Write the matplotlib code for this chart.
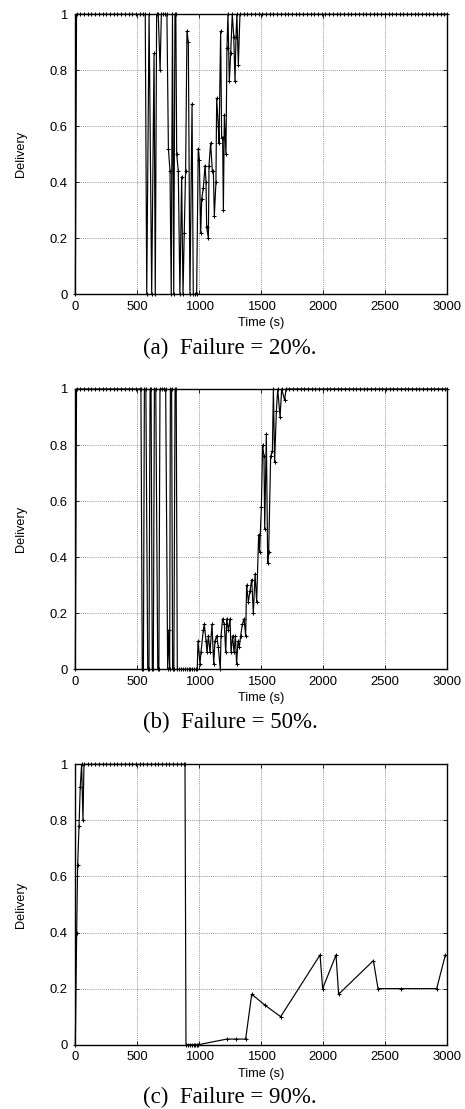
import matplotlib
matplotlib.use("Agg")
import matplotlib.pyplot as plt

# Delivery ratio over time for three failure levels
time_a = [0, 10, 40, 70, 100, 130, 160, 190, 220, 250,
          280, 310, 340, 370, 400, 430, 460, 490, 520, 550,
          565, 577, 596, 617, 636, 646, 657, 670, 685, 695,
          710, 725, 740, 752, 765, 775, 785, 795, 805, 812,
          819, 832, 845, 859, 870, 880, 891, 902, 913, 926,
          943, 953, 966, 980, 993,
          1002, 1013, 1021, 1034, 1048, 1056, 1061, 1075, 1080, 1093,
          1107, 1115, 1123, 1136, 1142, 1155, 1161, 1174, 1182, 1190,
          1196, 1204, 1217, 1225, 1233, 1244, 1255, 1268, 1280, 1290,
          1298, 1305, 1317, 1330,
          1360, 1390, 1420, 1450, 1480, 1510, 1540, 1570, 1600, 1630,
          1660, 1690, 1720, 1750, 1780, 1810, 1840, 1870, 1900, 1930,
          1960, 1990, 2020, 2050, 2080, 2110, 2140, 2170, 2200, 2230,
          2260, 2290, 2320, 2350, 2380, 2410, 2440, 2470, 2500, 2530,
          2560, 2590, 2620, 2650, 2680, 2710, 2740, 2770, 2800, 2830,
          2860, 2890, 2920, 2950, 2980, 3000]
delivery_a = [0, 1, 1, 1, 1, 1, 1, 1, 1, 1,
              1, 1, 1, 1, 1, 1, 1, 1, 1, 1,
              1, 0, 1, 0, 0.86, 0, 1, 1, 0.80, 1,
              1, 1, 1, 0.52, 0.44, 0, 1, 0, 1, 1,
              0.50, 0.44, 0, 0.42, 0, 0.22, 0.44, 0.94, 0.90, 0,
              0.68, 0, 0, 0, 0.52,
              0.48, 0.22, 0.34, 0.38, 0.46, 0.40, 0.24, 0.20, 0.46, 0.54,
              0.44, 0.44, 0.28, 0.40, 0.70, 0.60, 0.54, 0.94, 0.56, 0.56,
              0.30, 0.64, 0.50, 0.88, 1.0, 0.76, 0.86, 1.0, 0.92, 0.76,
              0.92, 1.0, 0.82, 1.0,
              1, 1, 1, 1, 1, 1, 1, 1, 1, 1,
              1, 1, 1, 1, 1, 1, 1, 1, 1, 1,
              1, 1, 1, 1, 1, 1, 1, 1, 1, 1,
              1, 1, 1, 1, 1, 1, 1, 1, 1, 1,
              1, 1, 1, 1, 1, 1, 1, 1, 1, 1,
              1, 1, 1, 1, 1, 1]

time_b = [0, 10, 40, 70, 100, 130, 160, 190, 220, 250,
          280, 310, 340, 370, 400, 430, 460, 490, 520,
          530, 541, 550, 558, 570, 585, 595, 604, 612, 622,
          630, 639, 650, 666, 675, 684, 700, 715, 730, 746,
          755, 762, 768, 778, 786, 796, 806, 815, 824, 840,
          855, 870, 885, 900, 915, 930, 945, 960, 975, 985,
          991, 1007, 1015, 1034, 1042, 1056, 1064, 1075, 1088, 1104,
          1118, 1128, 1142, 1155, 1171, 1177, 1190, 1204, 1215, 1223,
          1236, 1250, 1258, 1271, 1282, 1293, 1303, 1314, 1325, 1336,
          1349, 1363, 1376, 1384, 1398, 1411, 1425, 1438, 1452, 1465,
          1481, 1489, 1503, 1513, 1524, 1530, 1543, 1554, 1562, 1578,
          1592, 1600, 1610, 1624, 1635, 1654, 1667, 1691, 1702,
          1730, 1760, 1790, 1820, 1850, 1880, 1910, 1940, 1970, 2000,
          2030, 2060, 2090, 2120, 2150, 2180, 2210, 2240, 2270, 2300,
          2330, 2360, 2390, 2420, 2450, 2480, 2510, 2540, 2570, 2600,
          2630, 2660, 2690, 2720, 2750, 2780, 2810, 2840, 2870, 2900,
          2930, 2960, 2990, 3000]
delivery_b = [0, 1, 1, 1, 1, 1, 1, 1, 1, 1,
              1, 1, 1, 1, 1, 1, 1, 1, 1,
              1, 0, 0, 1, 1, 0, 0, 1, 1, 0,
              0, 1, 1, 0, 0, 1, 1, 1, 1, 0,
              0.14, 0, 1, 1, 0, 0, 1, 1, 0, 0,
              0, 0, 0, 0, 0, 0, 0, 0, 0, 0,
              0.10, 0.02, 0.06, 0.14, 0.16, 0.10, 0.06, 0.12, 0.06, 0.16,
              0.02, 0.10, 0.12, 0.08, 0.00, 0.12, 0.18, 0.16, 0.06, 0.18,
              0.14, 0.18, 0.06, 0.12, 0.06, 0.12, 0.02, 0.10, 0.08, 0.12,
              0.16, 0.18, 0.12, 0.30, 0.24, 0.28, 0.32, 0.20, 0.34, 0.24,
              0.48, 0.42, 0.58, 0.80, 0.76, 0.50, 0.84, 0.38, 0.42, 0.76,
              0.78, 1.0, 0.74, 0.92, 1.0, 0.90, 1.0, 0.96, 1.0,
              1, 1, 1, 1, 1, 1, 1, 1, 1, 1,
              1, 1, 1, 1, 1, 1, 1, 1, 1, 1,
              1, 1, 1, 1, 1, 1, 1, 1, 1, 1,
              1, 1, 1, 1, 1, 1, 1, 1, 1, 1,
              1, 1, 1, 1]

time_c = [0, 11, 19, 30, 40, 51, 62, 70,
          100, 130, 160, 190, 220, 250, 280, 310, 340, 370,
          400, 430, 460, 490, 520, 550, 580, 610, 640, 670,
          700, 730, 760, 790, 820, 850, 880, 886,
          894, 910, 925, 940, 955, 970, 985, 994,
          1223, 1295, 1376, 1425, 1535, 1659, 1977, 1998, 2106, 2127,
          2408, 2445, 2631, 2919, 2989]
delivery_c = [0, 0.40, 0.64, 0.78, 0.92, 1.0, 0.80, 1.0,
              1, 1, 1, 1, 1, 1, 1, 1, 1, 1,
              1, 1, 1, 1, 1, 1, 1, 1, 1, 1,
              1, 1, 1, 1, 1, 1, 1, 1,
              0, 0, 0, 0, 0, 0, 0, 0,
              0.02, 0.02, 0.02, 0.18, 0.14, 0.10, 0.32, 0.20, 0.32, 0.18,
              0.30, 0.20, 0.20, 0.20, 0.32]

captions = ["(a)  Failure = 20%.", "(b)  Failure = 50%.", "(c)  Failure = 90%."]
x_ticks = [0, 500, 1000, 1500, 2000, 2500, 3000]
y_ticks = [0, 0.2, 0.4, 0.6, 0.8, 1]
y_tick_labels = ["0", "0.2", "0.4", "0.6", "0.8", "1"]

SANS = ["Liberation Sans", "DejaVu Sans"]
SERIF = ["Liberation Serif", "DejaVu Serif"]

W, H = 465, 1109
fig = plt.figure(figsize=(W / 100, H / 100), dpi=100)

# pixel boxes (left, top, right, bottom) of each plotting area
boxes = [(75.3, 14.3, 446.7, 294.3),
         (75.3, 389.0, 446.7, 669.3),
         (75.3, 764.3, 446.7, 1044.7)]
caption_base = [354, 728, 1103]

series = [(time_a, delivery_a), (time_b, delivery_b), (time_c, delivery_c)]

for (l, t, r, b), (tt, vv), cap, cb in zip(boxes, series, captions, caption_base):
    ax = fig.add_axes([l / W, 1 - b / H, (r - l) / W, (b - t) / H])
    ax.plot(tt, vv, color="black", lw=0.85, marker="+", markersize=3.4,
            markeredgewidth=0.75, clip_on=False, zorder=3)
    ax.set_xlim(0, 3000)
    ax.set_ylim(0, 1)
    ax.set_xticks(x_ticks)
    ax.set_xticklabels([str(v) for v in x_ticks], family=SANS, fontsize=9.4)
    ax.set_yticks(y_ticks)
    ax.set_yticklabels(y_tick_labels, family=SANS, fontsize=9.4)
    ax.tick_params(axis="y", direction="in", length=3, width=0.6,
                   left=True, right=True, pad=5.5, colors="black")
    ax.tick_params(axis="x", direction="in", length=3, width=0.6,
                   bottom=True, top=True, pad=4.5, colors="black")
    ax.grid(True, color="#666666", linestyle=(0, (1, 1.5)), linewidth=0.55)
    for s in ax.spines.values():
        s.set_linewidth(1.0)
        s.set_color("black")
    ax.set_xlabel("Time (s)", family=SANS, fontsize=9.2, labelpad=3.5)
    ax.set_ylabel("Delivery", family=SANS, fontsize=9.2, labelpad=16)
    fig.text(0.495, 1 - cb / H, cap, family=SERIF, fontsize=16.5,
             ha="center", va="baseline")

fig.savefig("out.png", dpi=100)
